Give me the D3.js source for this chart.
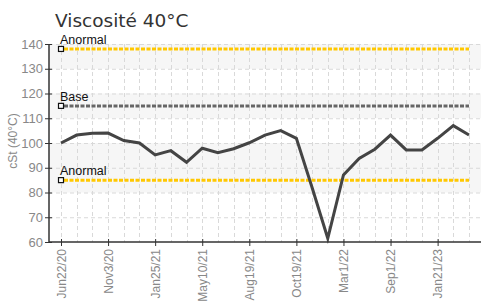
<!DOCTYPE html>
<html>
<head>
<meta charset="utf-8">
<script src="https://cdn.jsdelivr.net/npm/d3@7"></script>
<style>
  body { margin: 0; background: #fff; }
  svg { display: block; }
  .tick text { font-family: "Liberation Sans Narrow", "Liberation Sans", sans-serif; font-stretch: condensed; }
</style>
</head>
<body>
<div id="chart"></div>
<script>
// values, one per sample
var values = [100, 103.2, 103.9, 104, 101, 100, 95.2, 96.9, 92.2, 97.9, 96.1, 97.7,
              100.1, 103.2, 105, 101.9, 82, 61.5, 87.1, 93.8, 97.5, 103.2, 97.2, 97.2,
              101.9, 107, 103.2];

// every third sample carries a date label
var tickLabels = ["Jun22/20", "Nov3/20", "Jan25/21", "May10/21", "Aug19/21",
                  "Oct19/21", "Mar1/22", "Sep1/22", "Jan21/23"];

// reference lines
var refNames = ["Anormal", "Base", "Anormal"];
var refValues = [138, 115, 85];
var refColors = ["#ffc800", "#666666", "#ffc800"];

var yTicks = [60, 70, 80, 90, 100, 110, 120, 130, 140];

var width = 481, height = 303;
var plotLeft = 49, plotTop = 44, plotBottom = 242;

var svg = d3.select("#chart").append("svg")
    .attr("width", width)
    .attr("height", height);

var x = d3.scalePoint()
    .domain(d3.range(values.length))
    .range([61, 469]);

var y = d3.scaleLinear()
    .domain([60, 140])
    .range([plotBottom, plotTop]);

//background bands
var bands = [[130, 140], [110, 120], [80, 100]];
svg.append("g")
    .selectAll("rect")
    .data(bands)
    .enter().append("rect")
    .attr("x", plotLeft)
    .attr("width", width - plotLeft)
    .attr("y", function(d) { return y(d[1]); })
    .attr("height", function(d) { return y(d[0]) - y(d[1]); })
    .attr("fill", "#f6f6f6");

//grid
var grid = svg.append("g")
    .attr("stroke", "#d9d9d9")
    .attr("stroke-dasharray", "4,3");

grid.selectAll(".hgrid")
    .data(yTicks.slice(1))
    .enter().append("line")
    .attr("x1", plotLeft)
    .attr("x2", width)
    .attr("y1", function(d) { return y(d) + 0.5; })
    .attr("y2", function(d) { return y(d) + 0.5; });

grid.selectAll(".vgrid")
    .data(d3.range(values.length))
    .enter().append("line")
    .attr("x1", function(d) { return Math.round(x(d)) + 0.5; })
    .attr("x2", function(d) { return Math.round(x(d)) + 0.5; })
    .attr("y1", plotTop)
    .attr("y2", plotBottom);

//reference lines
var refs = svg.append("g");
refs.selectAll("line")
    .data(refValues)
    .enter().append("line")
    .attr("x1", x(0) + 3)
    .attr("x2", x(values.length - 1))
    .attr("y1", function(d) { return y(d); })
    .attr("y2", function(d) { return y(d); })
    .attr("stroke", function(d, i) { return refColors[i]; })
    .attr("stroke-width", 3)
    .attr("stroke-dasharray", "4,1.5");

refs.selectAll("rect")
    .data(refValues)
    .enter().append("rect")
    .attr("x", x(0) - 2.5)
    .attr("y", function(d) { return y(d) - 2.5; })
    .attr("width", 5)
    .attr("height", 5)
    .attr("fill", "#fff")
    .attr("stroke", "#111")
    .attr("stroke-width", 1.2);

refs.selectAll("text")
    .data(refValues)
    .enter().append("text")
    .attr("x", x(0) - 1)
    .attr("y", function(d) { return y(d) - 5; })
    .attr("font-family", "'Liberation Sans Narrow', 'Liberation Sans', sans-serif")
    .attr("font-size", 12.5)
    .attr("fill", "#111")
    .text(function(d, i) { return refNames[i]; });

//data line
var line = d3.line()
    .x(function(d, i) { return x(i); })
    .y(function(d) { return y(d); });

svg.append("path")
    .datum(values)
    .attr("d", line)
    .attr("fill", "none")
    .attr("stroke", "#444")
    .attr("stroke-width", 3)
    .attr("stroke-linejoin", "miter");

//axes
var yAxis = svg.append("g")
    .attr("transform", "translate(" + plotLeft + ",0)")
    .call(d3.axisLeft(y).tickValues(yTicks).tickSize(4).tickPadding(2));
yAxis.select(".domain").attr("stroke", "#333").attr("stroke-width", 1.5).attr("d", "M0," + plotTop + "V" + plotBottom);
yAxis.selectAll(".tick line").attr("stroke", "#333").attr("x2", 3).attr("x1", -4);
yAxis.selectAll(".tick text").attr("fill", "#888").attr("font-size", 13);

var xAxis = svg.append("g")
    .attr("transform", "translate(0," + plotBottom + ")")
    .call(d3.axisBottom(x)
        .tickValues(d3.range(0, values.length, 3))
        .tickFormat(function(d) { return tickLabels[d / 3]; })
        .tickSize(4));
xAxis.select(".domain").attr("stroke", "#333").attr("stroke-width", 1.5).attr("d", "M" + plotLeft + ",0H" + width);
xAxis.selectAll(".tick line").attr("stroke", "#333").attr("y1", -3).attr("y2", 4);
xAxis.selectAll(".tick text")
    .attr("fill", "#888")
    .attr("font-size", 12)
    .attr("transform", "rotate(-90)")
    .attr("text-anchor", "end")
    .attr("x", -7)
    .attr("y", 0)
    .attr("dy", "0.35em");

//labels
svg.append("text")
    .attr("transform", "translate(17,141) rotate(-90)")
    .attr("text-anchor", "middle")
    .attr("font-family", "'Liberation Sans Narrow', 'Liberation Sans', sans-serif")
    .attr("font-size", 12)
    .attr("fill", "#888")
    .text("cSt (40°C)");

svg.append("text")
    .attr("x", 55)
    .attr("y", 27)
    .attr("font-family", "'DejaVu Sans', sans-serif")
    .attr("font-size", 18.5)
    .attr("fill", "#333")
    .text("Viscosité 40°C");
</script>
</body>
</html>
